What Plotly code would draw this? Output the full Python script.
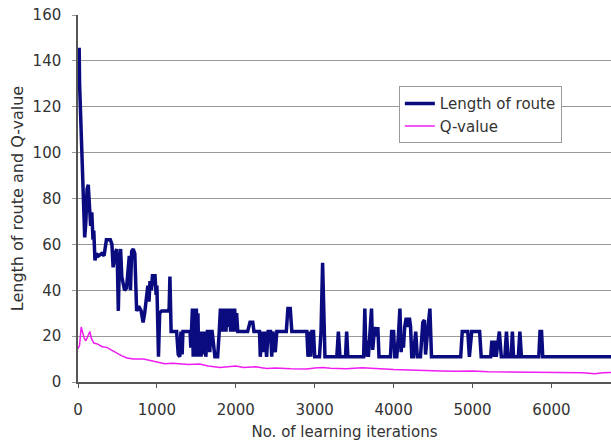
import plotly.graph_objects as go

# Length of route (blue) vertices
route_x = [0, 15, 20, 45, 70, 85, 100, 115, 130, 145, 160, 175, 190, 200, 215, 235, 260, 300, 330,
           360, 410, 430, 445, 470, 490, 500, 511, 520, 540, 555, 570, 590, 615, 630, 650, 665, 680,
           700, 720, 743, 770, 800, 825, 845, 870, 885, 900, 912, 930, 945, 960, 975, 990, 1000,
           1020, 1035, 1060, 1100, 1140, 1155, 1165, 1180, 1250, 1270, 1290, 1305, 1320, 1330, 1420,
           1430, 1440, 1450, 1460, 1475, 1490, 1500, 1510, 1520, 1530, 1545, 1560, 1575, 1590, 1605,
           1620, 1640, 1660, 1670, 1685, 1700, 1735, 1770, 1790, 1805, 1815, 1830, 1845, 1860, 1875,
           1890, 1905, 1920, 1935, 1955, 1970, 1985, 2000, 2010, 2025, 2150, 2180, 2215, 2230, 2300,
           2310, 2330, 2350, 2370, 2390, 2410, 2440, 2455, 2470, 2500, 2520, 2640, 2660, 2690, 2710,
           2900, 2915, 2935, 2950, 2965, 2985, 3000, 3060, 3080, 3100, 3120, 3130, 3280, 3300, 3320,
           3390, 3405, 3420, 3620, 3635, 3650, 3660, 3680, 3720, 3735, 3760, 3780, 3800, 3815, 3960,
           3975, 4000, 4015, 4040, 4060, 4080, 4095, 4110, 4125, 4140, 4160, 4180, 4200, 4215, 4230,
           4250, 4280, 4300, 4340, 4370, 4390, 4405, 4430, 4460, 4480, 4850, 4870, 4940, 4960, 4990,
           5090, 5110, 5230, 5245, 5260, 5280, 5300, 5340, 5365, 5410, 5430, 5450, 5490, 5505, 5520,
           5580, 5600, 5620, 5840, 5855, 5875, 5890, 6760]
route_y = [145, 145, 130, 100, 75, 63, 70, 84, 86, 78, 68, 74, 62, 66, 53, 56, 55, 56, 55,
           62, 62, 60, 50, 56, 58, 50, 31, 45, 58, 46, 44, 40, 41, 48, 55, 40, 57,
           58, 56, 31, 33, 31, 26, 30, 37, 42, 35, 44, 40, 47, 42, 47, 38, 42,
           11, 30, 31, 31, 31, 32, 46, 22, 22, 12, 11, 22, 12, 22, 22,
           15, 22, 32, 11, 32, 11, 32, 13, 30, 11, 22, 11, 22, 12, 22,
           11, 22, 22, 13, 22, 22, 11, 11, 22, 32, 22, 32, 22, 32, 22,
           32, 24, 32, 22, 32, 22, 32, 22, 30, 22, 22, 26, 26, 22, 22,
           11, 22, 13, 22, 11, 22, 22, 11, 22, 13, 22, 22, 32, 32, 22,
           22, 11, 22, 11, 22, 22, 11, 11, 22, 52, 22, 11, 11, 22, 11,
           11, 22, 11, 11, 32, 11, 18, 11, 32, 14, 24, 20, 24, 11, 11,
           22, 22, 11, 11, 20, 32, 13, 20, 15, 24, 28, 24, 28, 24, 11,
           11, 22, 11, 11, 26, 27, 12, 22, 32, 11, 11, 22, 22, 11, 22,
           22, 11, 11, 18, 11, 18, 11, 22, 11, 11, 22, 11, 11, 22, 11,
           11, 22, 11, 11, 22, 22, 11, 11]

# Q-value (magenta)
q_x = [0, 20, 40, 60, 80, 100, 120, 150, 170, 200, 250, 300, 370, 420, 490, 550, 620, 700, 830,
       900, 960, 1040, 1100, 1200, 1300, 1400, 1540, 1650, 1800, 1900, 2000, 2100, 2250, 2390,
       2500, 2700, 2900, 3000, 3100, 3200, 3400, 3600, 3800, 4000, 4200, 4400, 4600, 4800, 5000,
       5200, 5400, 5600, 5800, 6000, 6200, 6400, 6550, 6650, 6760]
q_y = [14.5, 16, 24, 22, 19, 18, 20, 22, 19, 17, 16.5, 15.5, 15, 14, 12.5, 11.5, 10.5, 10, 10,
       9.5, 9, 8.3, 8, 8.2, 7.8, 7.6, 7.8, 7, 6.3, 6.6, 7, 6.3, 6.6, 5.9,
       6.1, 5.8, 5.7, 6.1, 6.3, 6.0, 5.8, 6.2, 5.7, 5.4, 5.2, 4.9, 4.8, 4.7, 4.8,
       4.5, 4.4, 4.3, 4.3, 4.4, 4.2, 4.0, 3.6, 4.0, 4.1]

x_ticks = [0, 1000, 2000, 3000, 4000, 5000, 6000]
y_ticks = [0, 20, 40, 60, 80, 100, 120, 140, 160]

FONT = "DejaVu Sans"

fig = go.Figure()
fig.add_trace(go.Scatter(x=route_x, y=route_y, mode="lines", name="Length of route",
                         line=dict(color="#0b0b80", width=3.5)))
fig.add_trace(go.Scatter(x=q_x, y=q_y, mode="lines", name="Q-value",
                         line=dict(color="#f01cf0", width=1.5)))

fig.update_layout(
    width=611, height=445,
    margin=dict(l=78, r=0, t=15, b=63),
    paper_bgcolor="white", plot_bgcolor="white",
    font=dict(family=FONT, size=15, color="#333333"),
    showlegend=True,
    legend=dict(x=0.602, y=0.806, xanchor="left", yanchor="top",
                bgcolor="white", bordercolor="#999999", borderwidth=1,
                font=dict(family=FONT, size=15, color="#333333"),
                tracegroupgap=0, itemwidth=30),
    xaxis=dict(range=[0, 6755], tickvals=x_ticks, showgrid=False, zeroline=False,
               automargin=False,
               showline=True, linecolor="#555555", linewidth=1.5,
               ticks="outside", ticklen=4, tickcolor="#555555",
               ticklabelstandoff=9,
               title=dict(text="No. of learning iterations", font=dict(size=15), standoff=9)),
    yaxis=dict(range=[0, 160], tickvals=y_ticks, showgrid=True, gridcolor="#999999", gridwidth=1,
               automargin=False,
               zeroline=False, showline=True, linecolor="#555555", linewidth=1.5,
               ticks="outside", ticklen=4, tickcolor="#999999",
               ticklabelstandoff=8,
               title=dict(text="Length of route and Q-value", font=dict(size=16), standoff=5)),
)

fig.write_html("out.html",
               config={"displayModeBar": False},
               post_script="document.body.style.margin='0';document.body.style.padding='0';"
                           "document.body.style.overflow='hidden';")
